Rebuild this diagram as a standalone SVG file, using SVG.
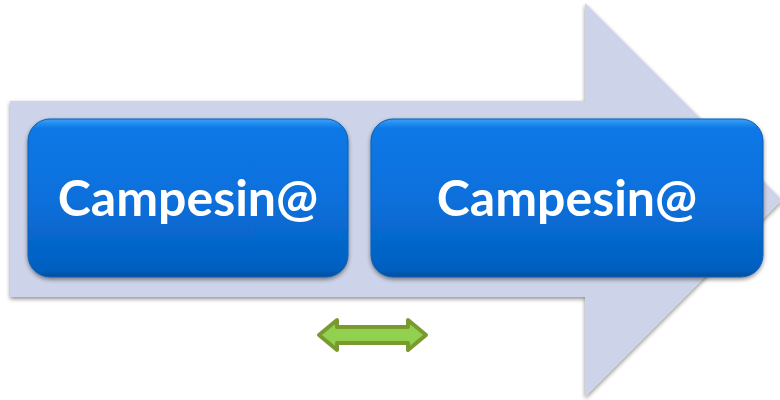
<svg xmlns="http://www.w3.org/2000/svg" width="780" height="400" viewBox="0 0 780 400">
<defs>
<linearGradient id="boxg" x1="0" y1="0" x2="0" y2="1">
<stop offset="0" stop-color="#3AA0F8"/>
<stop offset="0.06" stop-color="#0A78E6"/>
<stop offset="0.5" stop-color="#0870DC"/>
<stop offset="0.95" stop-color="#0560C0"/>
<stop offset="1" stop-color="#04509E"/>
</linearGradient>
<filter id="sh" x="-10%" y="-10%" width="120%" height="130%">
<feGaussianBlur in="SourceAlpha" stdDeviation="2"/>
<feOffset dx="0" dy="2"/>
<feComponentTransfer><feFuncA type="linear" slope="0.45"/></feComponentTransfer>
<feMerge><feMergeNode/><feMergeNode in="SourceGraphic"/></feMerge>
</filter>
<style>
.box{fill:url(#boxg);stroke:#0A5CB0;stroke-width:1}
.lbl{font-family:Lato,"Open Sans",sans-serif;font-weight:bold;font-size:50px;fill:#FFFFFF;text-anchor:middle}
</style>
</defs>
<rect width="780" height="400" fill="#FFFFFF"/>
<g id="bigArrow" filter="url(#sh)">
<polygon points="10,101 585,101 585,3 782,200 585,397 585,297 10,297" fill="#CDD3E8"/>
</g>
<g id="node1" filter="url(#sh)">
<rect class="box" x="28" y="119" width="320" height="158" rx="22"/>
<text class="lbl" x="188" y="216">Campesin@</text>
</g>
<g id="node2" filter="url(#sh)">
<rect class="box" x="371" y="119" width="392" height="158" rx="22"/>
<text class="lbl" x="567" y="216">Campesin@</text>
</g>
<g id="connectors">
<polygon points="319,335 337,320 337,327 408,327 408,320 426,335 408,350 408,343 337,343 337,350" fill="#92D050" stroke="#7A9A30" stroke-width="4" stroke-linejoin="round"/>
</g>
</svg>
